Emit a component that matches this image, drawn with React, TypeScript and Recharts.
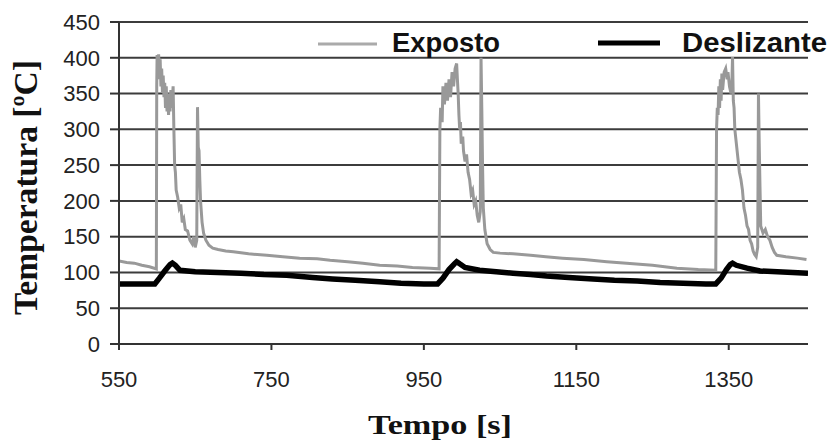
import { CartesianGrid, Legend, Line, LineChart, XAxis, YAxis } from "recharts";

// Exposto (surface exposed to air) - thin grey, noisy
const expostoTime = [
  550, 560, 570, 580, 590, 599, 599.5, 600, 601, 602, 603, 604, 605, 606, 607, 608, 609, 610, 611, 612,
  613, 614, 615, 616, 617, 618, 619, 620, 621, 622, 623, 624, 625, 627, 629, 631, 633, 635, 637, 640,
  643, 646, 648, 650, 652, 653, 654, 655, 656, 657, 659, 661, 664, 668, 673, 680, 690, 700, 720, 744,
  765, 787, 810, 827, 850, 870, 892, 915, 935, 958, 970,
  971, 972, 974, 975, 977, 979, 981, 983, 985, 987, 989, 991, 993, 994, 995, 996, 997, 998, 999, 1001,
  1002, 1004, 1006, 1008, 1010, 1012, 1014, 1016, 1018, 1020, 1022, 1024, 1025, 1026, 1027, 1028, 1030,
  1033, 1037, 1041, 1050, 1067, 1090, 1110, 1132, 1160, 1190, 1216, 1250, 1282, 1310, 1333,
  1334, 1335, 1336, 1337, 1338, 1339, 1340, 1341, 1342, 1344, 1346, 1348, 1349, 1351, 1353, 1354, 1355,
  1356, 1357, 1358, 1360, 1362, 1364, 1366, 1368, 1370, 1372, 1374, 1376, 1378, 1380, 1382, 1384, 1386,
  1388, 1389, 1390, 1391, 1392, 1395, 1398, 1401, 1404, 1407, 1410, 1413, 1425, 1440, 1452,
];
const expostoTemp = [
  116, 114, 113, 110, 108, 105, 360, 404, 370, 405, 380, 398, 360, 385, 352, 375, 345, 365, 330, 360,
  325, 350, 320, 345, 325, 355, 330, 340, 360, 300, 250, 240, 215, 205, 190, 195, 170, 175, 160, 158,
  145, 140, 150, 135, 145, 331, 275, 270, 230, 200, 170, 155, 145, 138, 134, 132, 130, 129, 126, 124,
  122, 120, 119, 117, 115, 113, 110, 109, 107, 106, 105,
  300, 330, 310, 360, 335, 365, 340, 370, 345, 380, 360, 385, 392, 370, 350, 320, 300, 310, 280, 290,
  270, 255, 265, 240, 230, 210, 215, 195, 200, 180, 170, 185, 400, 330, 250, 190, 160,
  140, 132, 128, 127, 126, 124, 122, 120, 118, 115, 113, 110, 106, 104, 103,
  300, 330, 320, 360, 330, 370, 340, 378, 355, 380, 385, 370, 380, 360, 350, 360, 401,
  340, 330, 300, 280, 260, 240, 230, 215, 190, 180, 165, 160, 145, 140, 130, 125, 122,
  135, 350, 280, 220, 165, 155, 160, 150, 145, 135, 128, 124, 122, 120, 118,
];

// Deslizante (sliding surface) - thick black
const deslizanteTime = [
  550, 575, 597, 603, 610, 617, 620, 624, 630, 650, 680, 710, 740, 770, 804, 830, 860, 892, 920, 950,
  968, 975, 983, 990, 993, 997, 1004, 1023, 1045, 1067, 1090, 1111, 1140, 1172, 1200, 1230, 1260, 1290,
  1320, 1333, 1340, 1347, 1352, 1355, 1360, 1374, 1391, 1434, 1454,
];
const deslizanteTemp = [
  84, 84, 84, 92, 102, 111, 113, 110, 103, 101, 100, 99, 97, 96, 93, 91, 89, 87, 85, 84,
  84, 92, 104, 112, 115, 112, 107, 103, 101, 99, 97, 95, 93, 91, 89, 88, 86, 85,
  84, 84, 92, 104, 111, 113, 110, 106, 102, 100, 99,
];

const xTicks = [550, 750, 950, 1150, 1350];
const yTicks = [0, 50, 100, 150, 200, 250, 300, 350, 400, 450];

const expostoData = expostoTime.map((x, i) => ({ x, y: expostoTemp[i] }));
const deslizanteData = deslizanteTime.map((x, i) => ({ x, y: deslizanteTemp[i] }));

const tickFont = { fontFamily: "Liberation Sans, Arial, sans-serif", fontSize: 22, fill: "#222" };

const renderLegend = () => (
  <svg width={830} height={60}>
    <line x1={318} x2={377} y1={44} y2={44} stroke="#aaa" strokeWidth={3} />
    <text
      x={392}
      y={51.5}
      textLength={108}
      lengthAdjust="spacingAndGlyphs"
      fontFamily="Liberation Sans, Arial, sans-serif"
      fontWeight="bold"
      fontSize={28}
      fill="#111"
    >
      Exposto
    </text>
    <line x1={598} x2={660} y1={43} y2={43} stroke="#000" strokeWidth={5} />
    <text
      x={682}
      y={51.5}
      textLength={145}
      lengthAdjust="spacingAndGlyphs"
      fontFamily="Liberation Sans, Arial, sans-serif"
      fontWeight="bold"
      fontSize={28}
      fill="#111"
    >
      Deslizante
    </text>
  </svg>
);

const YTitle = () => (
  <text
    x={37}
    y={187.5}
    transform="rotate(-90, 37, 187.5)"
    textAnchor="middle"
    textLength={255}
    lengthAdjust="spacingAndGlyphs"
    fontFamily="Liberation Serif, Times New Roman, serif"
    fontWeight="bold"
    fontSize={33}
    fill="#111"
  >
    Temperatura [ºC]
  </text>
);

const XTitle = () => (
  <text
    x={440}
    y={434}
    textAnchor="middle"
    textLength={144}
    lengthAdjust="spacingAndGlyphs"
    fontFamily="Liberation Serif, Times New Roman, serif"
    fontWeight="bold"
    fontSize={28}
    fill="#111"
  >
    Tempo [s]
  </text>
);

export default function App() {
  return (
    <div style={{ position: "absolute", left: 0, top: 0, width: 830, height: 443, background: "#fff" }}>
      <LineChart width={830} height={443} margin={{ top: 22, right: 22, bottom: 0, left: 0 }}>
        <CartesianGrid vertical={false} stroke="#3c3c3c" strokeWidth={2} />
        <XAxis
          dataKey="x"
          type="number"
          domain={[550, 1454]}
          ticks={xTicks}
          allowDataOverflow
          height={99}
          tickSize={6}
          tickMargin={21}
          tick={tickFont}
          axisLine={{ stroke: "#333", strokeWidth: 2 }}
          tickLine={{ stroke: "#333", strokeWidth: 2 }}
          label={<XTitle />}
        />
        <YAxis
          type="number"
          domain={[0, 450]}
          ticks={yTicks}
          width={119}
          tickSize={9}
          tickMargin={10}
          tick={tickFont}
          axisLine={{ stroke: "#333", strokeWidth: 2 }}
          tickLine={{ stroke: "#333", strokeWidth: 2 }}
          label={<YTitle />}
        />
        <Legend
          content={renderLegend}
          layout="horizontal"
          verticalAlign="middle"
          align="center"
          wrapperStyle={{ position: "absolute", left: 0, top: 0, width: 830, height: 60 }}
        />
        <Line
          data={expostoData}
          dataKey="y"
          name="Exposto"
          type="linear"
          stroke="#999"
          strokeWidth={3}
          dot={false}
          isAnimationActive={false}
        />
        <Line
          data={deslizanteData}
          dataKey="y"
          name="Deslizante"
          type="linear"
          stroke="#000"
          strokeWidth={5.5}
          dot={false}
          isAnimationActive={false}
        />
      </LineChart>
    </div>
  );
}
